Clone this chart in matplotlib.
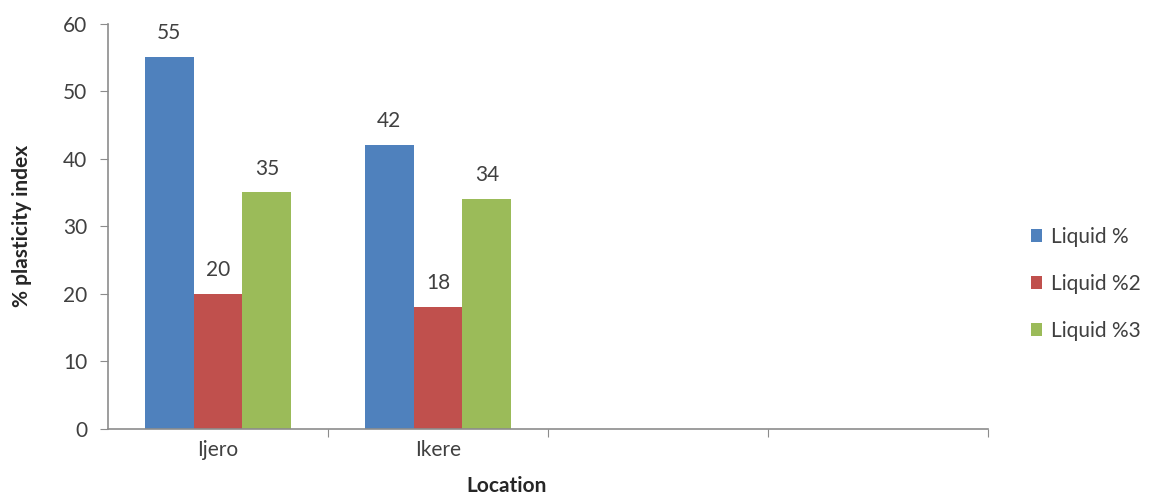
import matplotlib
matplotlib.use("Agg")
import matplotlib.pyplot as plt
import numpy as np

locations = ["Ijero", "Ikere", "", ""]
series_names = ["Liquid %", "Liquid %2", "Liquid %3"]
liquid = [55, 42]
liquid2 = [20, 18]
liquid3 = [35, 34]
colors = ["#4F81BD", "#C0504D", "#9BBB59"]

plt.rcParams["font.family"] = ["Lato", "DejaVu Sans"]

W, H = 1166, 499
fig = plt.figure(figsize=(W / 100, H / 100), dpi=100)
ax = fig.add_axes([108 / W, 1 - 429 / H, 880 / W, 405.5 / H])

n_slots = len(locations)
bw = 1 / 4.5
x = np.arange(len(liquid))
axis_color = "#8C8C8C"
text_color = "#404040"
fs = 15

for i, (vals, c, name) in enumerate(zip([liquid, liquid2, liquid3], colors, series_names)):
    pos = x + (i - 1) * bw
    ax.bar(pos, vals, width=bw, color=c, label=name, zorder=2)
    for xp, v in zip(pos, vals):
        ax.annotate(f"{v}", (xp, v), xytext=(0, 10), textcoords="offset points",
                    ha="center", va="bottom", fontsize=fs, color=text_color)

ax.set_xlim(-0.5, n_slots - 0.5)
ax.set_ylim(0, 60)
ax.set_yticks(range(0, 61, 10))

# category names sit at slot centres, tick marks sit on slot boundaries
ax.set_xticks(np.arange(n_slots), minor=True)
ax.set_xticklabels(locations, minor=True)
ax.set_xticks(list(np.arange(n_slots - 1) + 0.5) + [n_slots - 0.5])
ax.set_xticklabels([""] * n_slots)
ax.tick_params(axis="x", which="minor", length=0, pad=8, labelsize=fs, labelcolor=text_color)
ax.tick_params(axis="x", which="major", length=6, color=axis_color, direction="out")
ax.tick_params(axis="y", length=6, color=axis_color, direction="out", pad=9,
               labelsize=fs, labelcolor=text_color)

for s in ["top", "right"]:
    ax.spines[s].set_visible(False)
for s in ["left", "bottom"]:
    ax.spines[s].set_color(axis_color)
    ax.spines[s].set_linewidth(1.2)

ax.set_ylabel("% plasticity index", fontsize=fs, fontweight="bold", color="#262626")
ax.yaxis.set_label_coords(-76 / 880, 0.5)
ax.set_xlabel("Location", fontsize=fs, fontweight="bold", color="#262626")
ax.xaxis.set_label_coords((507 - 108) / 880, -47 / 405.5)

fig.legend(loc="center left", bbox_to_anchor=(1031 / W, 1 - 284 / H), frameon=False,
           fontsize=fs, handlelength=0.55, handleheight=0.55, handletextpad=0.4,
           labelspacing=1.3, borderpad=0, borderaxespad=0, labelcolor=text_color)

fig.savefig("out.png", dpi=100)
